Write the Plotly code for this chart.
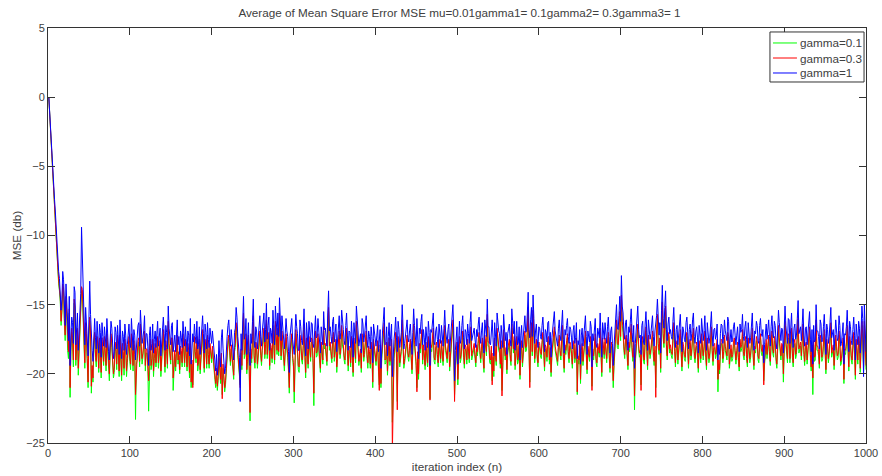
import plotly.graph_objects as go

# iteration index n = 1 .. 1000
iterations = list(range(1, 1001))

# averaged MSE learning curves (dB), gamma = 1
mse_gamma_1 = [
    0, -1.2, -2.4, -3.6, -4.6, -5.5, -6.4, -7.4, -8.3, -9.6, -10.8, -11.9, -12.6, -13.1, -13.9, -15.4, -14.6, -12.6, -13.2, -15.1,
    -16.5, -13.5, -14.8, -16.8, -17.6, -14.4, -19.4, -17.2, -15.9, -16.3, -17.8, -13.7, -14.1, -17.9, -16.7, -15.6, -18.3, -17.0, -15.2, -14.2,
    -9.4, -12.0, -14.9, -16.4, -17.9, -15.2, -16.3, -17.8, -18.7, -16.1, -13.3, -15.7, -17.6, -18.3, -19.1, -16.5, -16.0, -17.4, -18.2, -16.2,
    -17.1, -18.5, -16.4, -17.0, -18.8, -16.3, -17.3, -18.0, -16.6, -17.6, -18.1, -16.0, -17.5, -18.4, -19.0, -17.1, -16.2, -16.7, -17.8, -18.9,
    -18.4, -16.6, -17.0, -18.2, -16.5, -17.5, -18.6, -16.1, -17.7, -18.9, -16.9, -17.3, -18.3, -16.4, -17.2, -18.6, -17.9, -16.8, -16.4, -17.7,
    -18.1, -16.0, -17.4, -18.3, -16.8, -17.2, -19.0, -17.9, -17.6, -16.5, -16.3, -18.0, -15.4, -16.9, -17.8, -17.4, -16.9, -15.8, -18.2, -17.1,
    -17.1, -18.0, -19.4, -17.2, -16.6, -18.3, -17.8, -16.4, -18.5, -17.5, -16.9, -18.1, -17.3, -16.2, -18.0, -17.4, -16.7, -18.7, -17.6, -16.9,
    -15.9, -17.1, -18.3, -16.5, -17.0, -18.2, -15.1, -16.7, -17.7, -17.9, -16.5, -16.3, -18.4, -17.6, -17.2, -18.4, -16.8, -16.1, -17.9, -17.3,
    -18.6, -16.9, -17.4, -18.1, -16.2, -17.6, -18.0, -16.6, -17.5, -18.4, -16.9, -17.2, -18.7, -16.0, -19.3, -18.0, -17.1, -17.7, -16.4, -17.3,
    -17.8, -16.2, -18.2, -17.9, -16.6, -18.6, -17.4, -16.8, -15.8, -17.1, -18.5, -16.4, -17.0, -18.2, -16.3, -17.5, -18.1, -16.7, -17.7, -17.8,
    -16.9, -17.8, -18.4, -19.0, -19.8, -18.6, -20.1, -19.3, -17.6, -18.8, -19.5, -17.4, -16.8, -18.2, -18.9, -20.0, -19.6, -18.1, -17.3, -16.5,
    -16.1, -17.4, -18.0, -16.8, -17.5, -18.6, -19.0, -17.0, -16.7, -15.2, -15.9, -17.3, -17.9, -18.8, -22.0, -17.1, -18.3, -16.0, -14.4, -17.5,
    -17.2, -16.0, -18.6, -17.7, -16.3, -18.4, -19.4, -17.1, -17.8, -16.2, -14.6, -17.6, -18.1, -16.6, -16.9, -18.2, -17.4, -16.4, -15.8, -17.3,
    -18.0, -16.9, -16.2, -15.6, -17.7, -16.8, -14.9, -17.5, -16.5, -15.9, -18.3, -16.7, -17.0, -17.8, -15.4, -16.3, -17.9, -15.1, -16.1, -17.2,
    -15.6, -17.3, -14.5, -16.2, -17.6, -15.8, -16.8, -18.0, -18.2, -17.1, -16.0, -16.9, -17.3, -18.4, -19.9, -17.2, -16.4, -16.0, -17.5, -18.1,
    -18.6, -17.0, -15.7, -16.6, -17.1, -18.3, -18.3, -16.1, -16.6, -17.6, -17.9, -16.8, -15.3, -17.4, -18.7, -16.3, -17.0, -18.2, -16.2, -17.5,
    -17.7, -16.3, -16.4, -17.8, -18.1, -16.9, -15.8, -17.4, -17.3, -16.0, -16.9, -18.2, -18.5, -16.6, -17.2, -17.9, -15.5, -16.8, -16.7, -17.5,
    -18.0, -15.6, -14.0, -16.9, -16.6, -17.3, -17.8, -16.2, -15.9, -17.7, -17.1, -16.4, -18.4, -17.2, -16.3, -15.8, -17.5, -17.0, -15.4, -16.6,
    -16.8, -17.6, -17.9, -16.5, -15.6, -17.2, -18.3, -16.9, -17.0, -18.1, -16.2, -17.4, -18.8, -16.3, -17.4, -17.8, -15.1, -16.7, -16.9, -18.0,
    -17.6, -17.1, -18.5, -16.0, -16.4, -17.7, -17.2, -16.6, -15.8, -17.5, -18.1, -16.9, -17.3, -18.2, -16.6, -17.3, -19.2, -16.4, -17.0, -17.6,
    -18.0, -17.2, -16.5, -18.4, -17.4, -16.8, -19.6, -17.5, -16.9, -16.1, -15.2, -17.9, -17.8, -16.6, -18.7, -17.3, -16.3, -18.0, -17.1, -16.4,
    -20.2, -17.7, -17.5, -16.9, -15.9, -17.4, -18.4, -16.2, -16.8, -18.1, -17.6, -17.0, -15.0, -16.5, -18.2, -17.8, -17.3, -16.7, -16.1, -17.4,
    -17.7, -16.9, -16.4, -17.6, -18.6, -17.0, -15.3, -16.5, -17.2, -18.0, -16.0, -17.3, -18.9, -16.7, -17.1, -16.2, -15.7, -17.9, -16.8, -17.4,
    -18.3, -16.6, -17.5, -18.1, -16.2, -17.0, -19.4, -16.8, -17.0, -16.3, -15.6, -17.7, -17.9, -16.9, -16.6, -17.5, -18.1, -16.4, -17.3, -17.8,
    -16.5, -17.3, -18.0, -16.7, -15.4, -16.9, -17.6, -17.8, -16.8, -16.4, -18.4, -17.5, -17.1, -16.2, -15.0, -16.9, -20.5, -18.3, -17.7, -16.6,
    -19.3, -17.2, -16.2, -17.8, -17.5, -16.5, -15.8, -17.4, -18.2, -16.8, -17.0, -17.9, -16.4, -17.1, -17.8, -16.3, -15.5, -17.6, -17.2, -16.9,
    -16.7, -17.5, -18.1, -16.8, -17.3, -16.4, -15.9, -17.2, -17.8, -16.9, -16.3, -17.7, -18.5, -16.1, -17.0, -17.3, -14.6, -16.6, -16.6, -17.8,
    -17.9, -16.9, -16.1, -17.4, -18.7, -16.3, -17.4, -18.0, -15.6, -16.7, -16.9, -17.1, -18.2, -16.5, -17.2, -18.1, -15.7, -16.8, -17.6, -17.0,
    -18.6, -17.1, -16.8, -16.4, -17.5, -18.0, -15.3, -16.7, -17.1, -16.2, -18.3, -17.4, -16.2, -17.9, -17.7, -16.6, -19.0, -17.2, -16.5, -18.1,
    -17.3, -16.3, -15.8, -17.0, -16.9, -15.6, -14.1, -16.8, -17.4, -16.1, -15.2, -17.3, -14.3, -16.0, -17.8, -16.9, -16.4, -17.5, -18.1, -16.6,
    -16.7, -17.3, -17.5, -16.5, -15.9, -17.1, -18.4, -16.8, -17.0, -17.7, -16.3, -16.2, -17.9, -17.0, -18.8, -17.4, -16.6, -16.1, -15.5, -16.9,
    -17.3, -17.6, -18.0, -16.7, -16.1, -17.2, -17.6, -16.4, -15.4, -17.5, -18.5, -16.8, -17.2, -16.5, -16.0, -17.3, -17.8, -16.6, -16.8, -17.4,
    -18.2, -16.9, -16.5, -17.8, -17.4, -16.3, -18.9, -17.6, -17.9, -16.8, -19.3, -17.2, -16.7, -18.0, -17.1, -16.5, -15.8, -17.3, -18.6, -16.9,
    -17.3, -17.7, -16.2, -16.6, -19.5, -17.1, -17.6, -16.2, -16.0, -17.8, -18.1, -16.7, -17.0, -17.4, -15.6, -16.8, -18.8, -16.3, -17.4, -17.5,
    -16.3, -17.1, -17.8, -16.6, -15.9, -17.3, -18.5, -16.9, -16.6, -17.8, -19.4, -18.0, -17.2, -16.4, -15.0, -16.7, -16.8, -15.8, -14.4, -16.2,
    -12.9, -15.1, -15.6, -16.9, -17.5, -16.3, -16.1, -17.4, -18.3, -16.6, -17.0, -16.1, -15.3, -17.0, -17.7, -16.5, -19.6, -17.8, -16.9, -15.5,
    -15.1, -16.8, -17.4, -17.2, -18.6, -16.5, -16.2, -17.7, -17.9, -16.4, -15.5, -17.0, -18.3, -16.1, -16.8, -17.5, -17.1, -16.6, -15.8, -17.3,
    -18.0, -16.9, -16.4, -15.8, -14.6, -16.7, -17.2, -16.3, -18.5, -15.4, -13.6, -16.0, -16.7, -15.2, -14.0, -16.8, -17.6, -16.4, -15.9, -17.1,
    -16.8, -17.3, -17.5, -16.2, -15.2, -17.0, -18.1, -16.8, -16.5, -17.9, -17.3, -16.4, -15.7, -17.2, -18.4, -16.6, -16.9, -17.5, -17.7, -16.3,
    -15.9, -17.0, -18.2, -16.8, -16.4, -17.6, -17.1, -16.1, -15.6, -17.3, -17.8, -16.9, -16.6, -17.4, -18.5, -16.5, -17.2, -17.8, -16.0, -16.7,
    -17.6, -16.9, -15.8, -17.4, -18.3, -16.3, -16.9, -17.8, -17.4, -16.6, -15.5, -17.2, -18.0, -16.8, -16.7, -17.5, -17.2, -16.4, -19.0, -17.9,
    -18.6, -17.1, -16.4, -16.5, -17.8, -17.3, -16.1, -16.9, -17.3, -17.6, -15.9, -16.2, -18.2, -17.0, -16.8, -17.7, -17.5, -16.6, -16.3, -17.2,
    -17.9, -17.2, -16.6, -17.7, -18.4, -16.4, -17.0, -16.8, -15.7, -17.3, -17.6, -16.6, -16.2, -17.5, -18.1, -16.3, -16.9, -17.8, -17.4, -16.7,
    -15.6, -17.4, -18.3, -16.9, -17.1, -16.2, -16.5, -17.6, -17.8, -16.5, -16.0, -17.1, -17.3, -16.8, -19.2, -17.9, -16.7, -16.4, -17.5, -17.0,
    -16.1, -17.3, -18.0, -16.6, -15.8, -17.1, -17.4, -16.2, -16.5, -17.7, -18.2, -16.9, -15.4, -16.3, -17.0, -17.6, -16.7, -16.8, -18.5, -17.2,
    -15.1, -16.5, -17.3, -17.8, -16.0, -16.1, -17.8, -16.9, -15.6, -17.4, -18.1, -16.7, -16.4, -17.5, -17.2, -16.0, -14.7, -17.1, -16.8, -16.6,
    -17.6, -16.4, -15.3, -17.2, -18.0, -16.7, -16.6, -17.9, -17.1, -16.2, -15.5, -17.5, -18.4, -16.8, -19.3, -16.5, -17.7, -17.6, -15.0, -16.9,
    -16.9, -17.3, -18.2, -16.1, -16.4, -17.7, -17.5, -16.6, -15.7, -17.1, -18.6, -16.4, -16.8, -17.8, -17.3, -16.3, -15.2, -17.4, -17.0, -16.8,
    -18.3, -17.0, -16.1, -16.9, -17.6, -17.4, -15.8, -16.5, -18.0, -17.8, -16.7, -16.3, -19.3, -17.1, -17.2, -16.6, -15.4, -17.5, -18.4, -16.2,
    -16.6, -17.6, -17.9, -16.8, -15.9, -17.2, -19.0, -16.4, -17.3, -17.9, -16.2, -16.7, -18.5, -17.3, -15.1, -16.0, -20.2, -15.0, -17.8, -18.4,
]

# gamma = 0.3
mse_gamma_03 = [
    0, -1.2, -2.4, -3.6, -4.7, -5.7, -6.6, -7.6, -8.6, -9.9, -11.2, -12.3, -13.2, -13.7, -14.5, -16.2, -15.3, -13.5, -13.8, -16.0,
    -17.2, -14.4, -15.6, -17.9, -18.4, -15.3, -21.0, -18.1, -16.7, -17.4, -19.0, -14.6, -15.1, -19.0, -17.6, -16.7, -19.6, -18.1, -16.1, -15.1,
    -13.7, -13.9, -16.0, -17.5, -19.2, -16.3, -17.1, -18.9, -20.6, -17.2, -15.9, -16.9, -20.9, -19.4, -20.3, -17.6, -17.0, -18.5, -19.1, -17.3,
    -18.0, -19.6, -17.4, -18.1, -19.9, -17.4, -18.2, -19.1, -17.3, -18.7, -19.4, -17.1, -18.4, -19.5, -20.0, -18.2, -17.1, -17.8, -18.9, -20.0,
    -19.5, -17.7, -18.1, -19.3, -17.2, -18.4, -19.8, -17.2, -18.6, -20.1, -17.8, -18.4, -19.6, -17.5, -18.0, -19.8, -18.9, -17.9, -17.3, -18.8,
    -19.3, -17.1, -18.5, -19.4, -17.6, -18.3, -21.5, -19.0, -18.7, -17.6, -17.4, -19.1, -16.4, -18.0, -18.9, -18.5, -17.8, -16.9, -19.4, -18.2,
    -18.2, -19.1, -20.5, -18.3, -17.5, -19.4, -18.9, -17.5, -19.8, -18.6, -17.8, -19.2, -18.4, -17.3, -19.2, -18.5, -17.6, -19.8, -18.7, -18.0,
    -16.8, -18.2, -19.5, -17.6, -18.1, -19.3, -16.2, -17.8, -18.8, -19.0, -17.4, -17.4, -20.3, -18.7, -18.3, -19.5, -17.7, -17.2, -19.0, -18.4,
    -19.7, -18.0, -18.3, -19.2, -17.1, -18.7, -19.2, -17.5, -18.4, -19.5, -17.8, -18.3, -19.9, -17.1, -20.6, -19.0, -21.0, -18.8, -17.3, -18.4,
    -18.9, -17.3, -19.4, -19.0, -17.5, -19.7, -18.5, -17.9, -16.8, -18.2, -19.6, -17.5, -18.0, -19.3, -17.2, -18.6, -19.3, -17.8, -18.6, -18.9,
    -18.0, -18.9, -19.5, -20.1, -20.7, -19.6, -20.9, -20.2, -18.6, -19.7, -20.4, -18.5, -21.8, -19.3, -19.9, -21.0, -20.5, -19.2, -18.4, -17.6,
    -17.2, -18.5, -19.1, -17.9, -18.6, -19.7, -20.1, -18.1, -17.8, -16.3, -16.9, -18.4, -19.0, -19.9, -21.0, -18.2, -19.4, -17.1, -15.6, -18.6,
    -18.3, -17.1, -19.7, -18.8, -17.2, -19.5, -22.8, -18.2, -18.9, -17.3, -15.8, -18.7, -19.2, -17.7, -17.9, -19.3, -18.5, -17.5, -16.9, -18.4,
    -19.1, -18.0, -17.3, -16.7, -18.6, -17.9, -16.1, -18.6, -17.6, -17.0, -19.4, -17.8, -18.1, -18.9, -16.5, -17.4, -19.0, -16.2, -17.2, -18.3,
    -16.7, -18.4, -15.6, -17.3, -18.7, -16.9, -17.9, -19.1, -19.4, -18.2, -17.1, -18.0, -18.5, -19.5, -21.0, -18.3, -17.5, -17.1, -18.6, -19.2,
    -21.3, -18.1, -16.8, -17.7, -18.2, -19.4, -19.5, -17.2, -17.7, -18.7, -19.0, -17.9, -16.4, -18.5, -19.9, -17.4, -18.1, -19.3, -17.3, -18.6,
    -18.8, -17.4, -17.5, -18.9, -21.4, -18.0, -16.9, -18.5, -18.4, -17.1, -18.0, -19.3, -19.6, -17.7, -18.3, -19.0, -16.6, -17.9, -17.8, -18.6,
    -19.1, -16.7, -15.2, -18.0, -17.7, -18.4, -18.9, -17.3, -17.0, -18.8, -18.2, -17.5, -19.5, -18.3, -17.4, -16.9, -18.6, -18.1, -16.5, -17.7,
    -17.9, -18.7, -19.0, -17.6, -16.7, -18.3, -19.4, -18.0, -18.1, -19.2, -17.3, -18.5, -19.9, -17.4, -18.5, -18.9, -16.2, -17.8, -18.0, -19.1,
    -18.7, -18.2, -19.6, -17.1, -17.5, -18.8, -18.3, -17.7, -16.9, -18.6, -19.2, -18.0, -18.4, -19.3, -17.7, -18.4, -20.6, -17.5, -18.1, -18.7,
    -19.1, -18.3, -17.6, -19.5, -21.2, -17.9, -20.7, -18.6, -18.0, -17.2, -16.3, -19.0, -18.9, -17.7, -19.8, -18.4, -17.4, -19.1, -18.2, -17.5,
    -25.6, -20.9, -18.6, -18.0, -17.0, -18.5, -22.6, -17.3, -17.9, -19.2, -18.7, -18.1, -16.1, -17.6, -19.3, -18.9, -18.4, -17.8, -17.2, -18.5,
    -18.8, -18.0, -17.5, -18.7, -19.7, -18.1, -16.4, -17.6, -18.3, -19.1, -21.3, -18.4, -20.0, -17.8, -18.2, -17.3, -16.8, -19.0, -17.9, -18.5,
    -19.4, -17.7, -18.6, -19.2, -17.3, -18.1, -21.9, -17.9, -18.1, -17.4, -16.7, -18.8, -19.0, -18.0, -17.7, -18.6, -19.2, -17.5, -18.4, -18.9,
    -17.6, -18.4, -19.1, -17.8, -16.5, -18.0, -18.7, -18.9, -17.9, -17.5, -19.5, -18.6, -18.2, -17.3, -16.1, -18.0, -22.0, -19.4, -18.8, -17.7,
    -20.4, -18.3, -17.3, -18.9, -18.6, -17.6, -16.9, -18.5, -19.3, -17.9, -18.1, -19.0, -17.5, -18.2, -18.9, -17.4, -16.6, -18.7, -18.3, -18.0,
    -17.8, -18.6, -19.2, -17.9, -18.4, -17.5, -17.0, -18.3, -18.9, -18.0, -17.4, -18.8, -19.6, -17.2, -18.1, -18.4, -15.7, -17.7, -17.7, -18.9,
    -19.0, -18.0, -20.8, -18.5, -19.8, -17.4, -18.5, -19.1, -16.7, -17.8, -18.0, -18.2, -19.3, -17.6, -21.6, -19.2, -16.8, -17.9, -18.7, -18.1,
    -19.7, -18.2, -17.9, -17.5, -18.6, -19.1, -16.4, -17.8, -18.2, -17.3, -19.4, -18.5, -17.3, -19.0, -18.8, -17.7, -20.1, -18.3, -17.6, -19.2,
    -18.4, -17.4, -16.9, -18.1, -18.0, -16.7, -15.2, -17.9, -21.0, -17.2, -16.3, -18.4, -15.4, -17.1, -18.9, -18.0, -17.5, -18.6, -19.2, -17.7,
    -17.8, -18.4, -18.6, -17.6, -17.0, -18.2, -19.5, -17.9, -18.1, -18.8, -17.4, -17.3, -19.0, -18.1, -19.9, -18.5, -17.7, -17.2, -16.6, -18.0,
    -18.4, -18.7, -19.1, -17.8, -17.2, -18.3, -18.7, -17.5, -16.5, -18.6, -19.6, -17.9, -18.3, -17.6, -17.1, -18.4, -18.9, -17.7, -17.9, -18.5,
    -19.3, -18.0, -17.6, -18.9, -18.5, -17.4, -21.3, -18.7, -19.0, -17.9, -20.4, -18.3, -17.8, -19.1, -18.2, -17.6, -16.9, -18.4, -19.7, -18.0,
    -18.4, -18.8, -17.3, -17.7, -21.2, -18.2, -18.7, -17.3, -17.1, -18.9, -19.2, -17.8, -18.1, -18.5, -16.7, -17.9, -19.9, -17.4, -18.5, -18.6,
    -17.4, -18.2, -18.9, -17.7, -17.0, -18.4, -19.6, -18.0, -17.7, -18.9, -20.5, -19.1, -18.3, -17.5, -16.1, -17.8, -17.9, -16.9, -15.5, -17.3,
    -14.3, -16.2, -16.7, -18.0, -18.6, -17.4, -17.2, -18.5, -19.4, -17.7, -18.1, -17.2, -16.4, -18.1, -18.8, -17.6, -21.6, -18.9, -18.0, -16.6,
    -16.4, -17.9, -18.5, -18.3, -21.2, -17.6, -17.3, -18.8, -19.0, -17.5, -16.6, -18.1, -19.4, -17.2, -17.9, -18.6, -18.2, -17.7, -16.9, -18.4,
    -19.1, -18.0, -21.7, -16.9, -15.7, -17.8, -18.3, -17.4, -19.6, -16.5, -14.8, -17.1, -17.8, -16.3, -15.1, -17.9, -18.7, -17.5, -17.0, -18.2,
    -17.9, -18.4, -18.6, -17.3, -16.3, -18.1, -19.2, -17.9, -17.6, -19.0, -18.4, -17.5, -16.8, -18.3, -19.5, -17.7, -18.0, -18.6, -18.8, -17.4,
    -17.0, -18.1, -19.3, -17.9, -17.5, -18.7, -18.2, -17.2, -16.7, -18.4, -18.9, -18.0, -17.7, -18.5, -19.6, -17.6, -18.3, -18.9, -17.1, -17.8,
    -18.7, -18.0, -16.9, -18.5, -19.4, -17.4, -18.0, -18.9, -18.5, -17.7, -16.6, -18.3, -19.1, -17.9, -17.8, -18.6, -18.3, -17.5, -20.4, -19.0,
    -19.7, -18.2, -17.5, -17.6, -18.9, -18.4, -17.2, -18.0, -18.4, -18.7, -17.0, -17.3, -19.3, -18.1, -17.9, -18.8, -18.6, -17.7, -17.4, -18.3,
    -19.0, -18.3, -17.7, -18.8, -19.5, -17.5, -18.1, -17.9, -16.8, -18.4, -18.7, -17.7, -17.3, -18.6, -19.2, -17.4, -18.0, -18.9, -18.5, -17.8,
    -16.7, -18.5, -19.4, -18.0, -18.2, -17.3, -17.6, -18.7, -18.9, -17.6, -17.1, -18.2, -18.4, -17.9, -20.8, -19.0, -17.8, -17.5, -18.6, -18.1,
    -17.2, -18.4, -19.1, -17.7, -16.9, -18.2, -18.5, -17.3, -17.6, -18.8, -19.3, -18.0, -16.5, -17.4, -18.1, -18.7, -17.8, -17.9, -20.0, -18.3,
    -16.2, -17.6, -18.4, -18.9, -17.1, -17.2, -18.9, -18.0, -16.7, -18.5, -19.2, -17.8, -17.5, -18.6, -18.3, -17.1, -15.8, -18.2, -17.9, -17.7,
    -18.7, -17.5, -16.4, -18.3, -19.1, -17.8, -17.7, -19.0, -18.2, -17.3, -16.6, -18.6, -19.5, -17.9, -20.3, -17.6, -18.8, -18.7, -16.1, -18.0,
    -18.0, -18.4, -19.3, -17.2, -17.5, -18.8, -18.6, -17.7, -16.8, -18.2, -19.7, -17.5, -17.9, -18.9, -18.4, -17.4, -16.3, -18.5, -18.1, -17.9,
    -19.4, -18.1, -17.2, -18.0, -18.7, -18.5, -16.9, -17.6, -19.1, -18.9, -17.8, -17.4, -20.4, -18.2, -18.3, -17.7, -16.5, -18.6, -19.5, -17.3,
    -17.7, -18.7, -19.0, -17.9, -17.0, -18.3, -20.1, -17.5, -18.4, -19.0, -17.3, -17.8, -19.6, -18.4, -16.2, -17.1, -19.5, -16.2, -18.9, -19.4,
]

# gamma = 0.1
mse_gamma_01 = [
    0, -1.2, -2.4, -3.7, -4.8, -5.8, -6.7, -7.8, -8.8, -10.1, -11.4, -12.5, -13.5, -14.0, -14.8, -16.5, -15.6, -13.8, -14.0, -16.3,
    -17.6, -14.7, -15.9, -18.3, -18.9, -15.6, -21.7, -18.4, -17.0, -17.8, -19.5, -14.9, -15.3, -19.4, -18.0, -17.0, -20.1, -18.5, -16.4, -15.4,
    -14.0, -14.2, -16.3, -17.8, -19.6, -16.6, -17.4, -19.2, -21.0, -17.5, -16.2, -17.2, -21.4, -19.7, -20.6, -17.9, -17.3, -18.8, -19.5, -17.6,
    -18.2, -19.9, -17.8, -18.4, -20.3, -17.7, -18.5, -19.4, -17.6, -19.0, -19.8, -17.4, -18.7, -19.8, -20.5, -18.5, -17.3, -18.1, -19.2, -20.3,
    -19.9, -18.0, -18.4, -19.7, -17.5, -18.7, -20.2, -17.5, -18.9, -20.5, -18.1, -18.7, -20.1, -17.8, -18.3, -20.2, -19.2, -18.2, -17.6, -19.1,
    -19.7, -17.4, -18.8, -19.8, -17.9, -18.6, -23.3, -19.3, -19.0, -17.9, -17.7, -19.5, -16.7, -18.3, -19.3, -18.8, -18.1, -17.2, -19.8, -18.5,
    -18.5, -19.4, -22.7, -18.6, -17.8, -19.7, -19.3, -17.8, -20.2, -18.9, -18.1, -19.5, -18.7, -17.6, -19.6, -18.8, -17.9, -20.2, -19.0, -18.3,
    -17.0, -18.5, -19.9, -17.9, -18.4, -19.6, -16.5, -18.1, -19.2, -19.3, -17.7, -17.7, -21.2, -19.0, -18.6, -19.8, -18.0, -17.5, -19.3, -18.7,
    -20.0, -18.3, -18.6, -19.5, -17.4, -19.0, -19.5, -17.8, -18.7, -19.8, -18.1, -18.6, -20.3, -17.4, -21.0, -19.3, -20.8, -19.1, -17.6, -18.7,
    -19.2, -17.6, -19.8, -19.3, -17.8, -20.0, -18.8, -18.2, -17.1, -18.5, -19.9, -17.8, -18.3, -19.6, -17.5, -18.9, -19.6, -18.1, -18.9, -19.2,
    -18.3, -19.2, -19.8, -20.4, -21.0, -19.9, -21.2, -20.5, -18.9, -20.0, -20.7, -18.8, -21.5, -19.6, -20.2, -21.3, -20.8, -19.5, -18.7, -17.9,
    -17.5, -18.8, -19.4, -18.2, -18.9, -20.0, -20.4, -18.4, -18.1, -16.6, -17.2, -18.7, -19.3, -20.2, -20.8, -18.5, -19.7, -17.4, -15.9, -18.9,
    -18.6, -17.4, -20.0, -19.1, -17.5, -19.8, -23.4, -18.5, -19.2, -17.6, -16.1, -19.0, -19.6, -18.0, -18.2, -19.6, -18.8, -17.8, -17.2, -18.7,
    -19.4, -18.3, -17.6, -17.0, -18.9, -18.2, -16.4, -18.9, -17.9, -17.3, -19.7, -18.1, -18.4, -19.2, -16.8, -17.7, -19.3, -16.5, -17.5, -18.6,
    -17.0, -18.7, -15.9, -17.6, -19.0, -17.2, -18.2, -19.4, -19.8, -18.5, -17.4, -18.3, -18.8, -19.8, -21.4, -18.6, -17.8, -17.4, -18.9, -19.5,
    -22.1, -18.4, -17.1, -18.0, -18.5, -19.7, -19.9, -17.5, -18.0, -19.0, -19.3, -18.2, -16.7, -18.8, -20.3, -17.7, -18.4, -19.6, -17.6, -18.9,
    -19.1, -17.7, -17.8, -19.2, -22.3, -18.3, -17.2, -18.8, -18.7, -17.4, -18.3, -19.6, -19.9, -18.0, -18.6, -19.3, -16.9, -18.2, -18.1, -18.9,
    -19.4, -17.0, -15.5, -18.3, -18.0, -18.7, -19.2, -17.6, -17.3, -19.1, -18.5, -17.8, -19.9, -18.6, -17.7, -17.2, -18.9, -18.4, -16.8, -18.0,
    -18.2, -19.0, -19.3, -17.9, -17.0, -18.6, -19.8, -18.3, -18.4, -19.5, -17.6, -18.8, -20.2, -17.7, -18.8, -19.2, -16.5, -18.1, -18.3, -19.4,
    -19.0, -18.5, -19.9, -17.4, -17.8, -19.1, -18.6, -18.0, -17.2, -18.9, -19.6, -18.3, -18.7, -19.6, -18.0, -18.7, -21.0, -17.8, -18.4, -19.0,
    -19.4, -18.6, -17.9, -19.8, -20.8, -18.2, -21.0, -18.9, -18.3, -17.5, -16.6, -19.3, -19.2, -18.0, -20.1, -18.7, -17.7, -19.4, -18.5, -17.8,
    -23.5, -20.6, -18.9, -18.3, -17.3, -18.8, -22.0, -17.6, -18.2, -19.5, -19.0, -18.4, -16.4, -17.9, -19.6, -19.2, -18.7, -18.1, -17.5, -18.8,
    -19.1, -18.3, -17.8, -19.0, -20.0, -18.4, -16.7, -17.9, -18.6, -19.4, -21.0, -18.7, -20.4, -18.1, -18.5, -17.6, -17.1, -19.3, -18.2, -18.8,
    -19.7, -18.0, -18.9, -19.5, -17.6, -18.4, -21.8, -18.2, -18.4, -17.7, -17.0, -19.1, -19.3, -18.3, -18.0, -18.9, -19.5, -17.8, -18.7, -19.2,
    -17.9, -18.7, -19.4, -18.1, -16.8, -18.3, -19.0, -19.2, -18.2, -17.8, -19.8, -18.9, -18.5, -17.6, -16.4, -18.3, -21.5, -19.7, -19.1, -18.0,
    -20.8, -18.6, -17.6, -19.2, -18.9, -17.9, -17.2, -18.8, -19.6, -18.2, -18.4, -19.3, -17.8, -18.5, -19.2, -17.7, -16.9, -19.0, -18.6, -18.3,
    -18.1, -18.9, -19.5, -18.2, -18.7, -17.8, -17.3, -18.6, -19.2, -18.3, -17.7, -19.1, -19.9, -17.5, -18.4, -18.7, -16.0, -18.0, -18.0, -19.2,
    -19.3, -18.3, -20.5, -18.8, -20.2, -17.7, -18.8, -19.4, -17.0, -18.1, -18.3, -18.5, -19.6, -17.9, -21.2, -19.5, -17.1, -18.2, -19.0, -18.4,
    -20.0, -18.5, -18.2, -17.8, -18.9, -19.4, -16.7, -18.1, -18.5, -17.6, -19.7, -18.8, -17.6, -19.3, -19.1, -18.0, -20.4, -18.6, -17.9, -19.5,
    -18.7, -17.7, -17.2, -18.4, -18.3, -17.0, -15.5, -18.2, -20.6, -17.5, -16.6, -18.7, -15.7, -17.4, -19.2, -18.3, -17.8, -18.9, -19.5, -18.0,
    -18.1, -18.7, -18.9, -17.9, -17.3, -18.5, -19.8, -18.2, -18.4, -19.1, -17.7, -17.6, -19.3, -18.4, -20.2, -18.8, -18.0, -17.5, -16.9, -18.3,
    -18.7, -19.0, -19.4, -18.1, -17.5, -18.6, -19.0, -17.8, -16.8, -18.9, -19.9, -18.2, -18.6, -17.9, -17.4, -18.7, -19.2, -18.0, -18.2, -18.8,
    -19.6, -18.3, -17.9, -19.2, -18.8, -17.7, -21.5, -19.0, -19.3, -18.2, -20.7, -18.6, -18.1, -19.4, -18.5, -17.9, -17.2, -18.7, -20.0, -18.3,
    -18.7, -19.1, -17.6, -18.0, -20.9, -18.5, -19.0, -17.6, -17.4, -19.2, -19.5, -18.1, -18.4, -18.8, -17.0, -18.2, -20.2, -17.7, -18.8, -18.9,
    -17.7, -18.5, -19.2, -18.0, -17.3, -18.7, -19.9, -18.3, -18.0, -19.2, -21.0, -19.4, -18.6, -17.8, -16.4, -18.1, -18.2, -17.2, -15.8, -17.6,
    -14.6, -16.5, -17.0, -18.3, -18.9, -17.7, -17.5, -18.8, -19.7, -18.0, -18.4, -17.5, -16.7, -18.4, -19.1, -17.9, -22.6, -19.2, -18.3, -16.9,
    -16.7, -18.2, -18.8, -18.6, -20.8, -17.9, -17.6, -19.1, -19.3, -17.8, -16.9, -18.4, -19.7, -17.5, -18.2, -18.9, -18.5, -18.0, -17.2, -18.7,
    -19.4, -18.3, -21.0, -17.2, -16.0, -18.1, -18.6, -17.7, -19.9, -16.8, -15.1, -17.4, -18.1, -16.6, -15.4, -18.2, -19.0, -17.8, -17.3, -18.5,
    -18.2, -18.7, -18.9, -17.6, -16.6, -18.4, -19.5, -18.2, -17.9, -19.3, -18.7, -17.8, -17.1, -18.6, -19.8, -18.0, -18.3, -18.9, -19.1, -17.7,
    -17.3, -18.4, -19.6, -18.2, -17.8, -19.0, -18.5, -17.5, -17.0, -18.7, -19.2, -18.3, -18.0, -18.8, -19.9, -17.9, -18.6, -19.2, -17.4, -18.1,
    -19.0, -18.3, -17.2, -18.8, -19.7, -17.7, -18.3, -19.2, -18.8, -18.0, -16.9, -18.6, -19.4, -18.2, -18.1, -18.9, -18.6, -17.8, -21.3, -19.3,
    -20.0, -18.5, -17.8, -17.9, -19.2, -18.7, -17.5, -18.3, -18.7, -19.0, -17.3, -17.6, -19.6, -18.4, -18.2, -19.1, -18.9, -18.0, -17.7, -18.6,
    -19.3, -18.6, -18.0, -19.1, -19.8, -17.8, -18.4, -18.2, -17.1, -18.7, -19.0, -18.0, -17.6, -18.9, -19.5, -17.7, -18.3, -19.2, -18.8, -18.1,
    -17.0, -18.8, -19.7, -18.3, -18.5, -17.6, -17.9, -19.0, -19.2, -17.9, -17.4, -18.5, -18.7, -18.2, -20.5, -19.3, -18.1, -17.8, -18.9, -18.4,
    -17.5, -18.7, -19.4, -18.0, -17.2, -18.5, -18.8, -17.6, -17.9, -19.1, -19.6, -18.3, -16.8, -17.7, -18.4, -19.0, -18.1, -18.2, -20.6, -18.6,
    -16.5, -17.9, -18.7, -19.2, -17.4, -17.5, -19.2, -18.3, -17.0, -18.8, -19.5, -18.1, -17.8, -18.9, -18.6, -17.4, -16.1, -18.5, -18.2, -18.0,
    -19.0, -17.8, -16.7, -18.6, -19.4, -18.1, -18.0, -19.3, -18.5, -17.6, -16.9, -18.9, -19.8, -18.2, -21.5, -17.9, -19.1, -19.0, -16.4, -18.3,
    -18.3, -18.7, -19.6, -17.5, -17.8, -19.1, -18.9, -18.0, -17.1, -18.5, -20.0, -17.8, -18.2, -19.2, -18.7, -17.7, -16.6, -18.8, -18.4, -18.2,
    -19.7, -18.4, -17.5, -18.3, -19.0, -18.8, -17.2, -17.9, -19.4, -19.2, -18.1, -17.7, -20.7, -18.5, -18.6, -18.0, -16.8, -18.9, -19.8, -17.6,
    -18.0, -19.0, -19.3, -18.2, -17.3, -18.6, -20.4, -17.8, -18.7, -19.3, -17.6, -18.1, -19.9, -18.7, -16.5, -17.4, -19.8, -16.5, -19.2, -19.7,
]

series_names = ["gamma=0.1", "gamma=0.3", "gamma=1"]
series_values = [mse_gamma_01, mse_gamma_03, mse_gamma_1]
series_colors = ["#00ff00", "#ff0000", "#0000ff"]

font_family = "Liberation Sans, Arial, Helvetica, sans-serif"
ink = "#333333"
text_color = "#404040"

fig = go.Figure()
for name, values, color in zip(series_names, series_values, series_colors):
    fig.add_trace(go.Scatter(
        x=iterations, y=values, name=name, mode="lines",
        line=dict(color=color, width=1),
        showlegend=False,
    ))

axis_common = dict(
    showgrid=False, zeroline=False, automargin=False,
    showline=True, linecolor=ink, linewidth=1, mirror="ticks",
    ticks="inside", ticklen=7, tickcolor=ink, tickwidth=1,
    tickfont=dict(family=font_family, size=11, color=text_color),
)

# boxed legend in the upper-right corner of the axes
legend_box = dict(x0=0.8826, x1=0.9976, y0=0.8699, y1=0.9904)
legend_rows = [0.9639, 0.9277, 0.8916]
shapes = [dict(type="rect", xref="paper", yref="paper", **legend_box,
               line=dict(color=ink, width=1), fillcolor="white", layer="above")]
annotations = []
for name, color, yrow in zip(series_names, series_colors, legend_rows):
    shapes.append(dict(type="line", xref="paper", yref="paper",
                       x0=0.8863, x1=0.9156, y0=yrow, y1=yrow,
                       line=dict(color=color, width=1), layer="above"))
    annotations.append(dict(text=name, xref="paper", yref="paper",
                            x=0.9170, y=yrow, xanchor="left", yanchor="middle",
                            showarrow=False,
                            font=dict(family=font_family, size=11.7, color=text_color)))

fig.update_layout(
    width=882, height=476,
    margin=dict(l=48, r=16, t=28, b=33, autoexpand=False),
    paper_bgcolor="white", plot_bgcolor="white",
    font=dict(family=font_family, size=11.7, color=text_color),
    title=dict(
        text="Average of Mean Square Error MSE mu=0.01gamma1= 0.1gamma2= 0.3gamma3= 1",
        x=0.521, xanchor="center", y=0.972, yanchor="middle",
        font=dict(family=font_family, size=11.7, color=text_color),
    ),
    xaxis=dict(
        range=[0, 1000], dtick=100, tick0=0,
        title=dict(text="iteration index (n)", standoff=4,
                   font=dict(family=font_family, size=11.7, color=text_color)),
        **axis_common,
    ),
    yaxis=dict(
        range=[-25, 5], dtick=5, tick0=0,
        title=dict(text="MSE (db)", standoff=2,
                   font=dict(family=font_family, size=11.7, color=text_color)),
        **axis_common,
    ),
    shapes=shapes,
    annotations=annotations,
    showlegend=False,
)

fig.write_html("out.html")
